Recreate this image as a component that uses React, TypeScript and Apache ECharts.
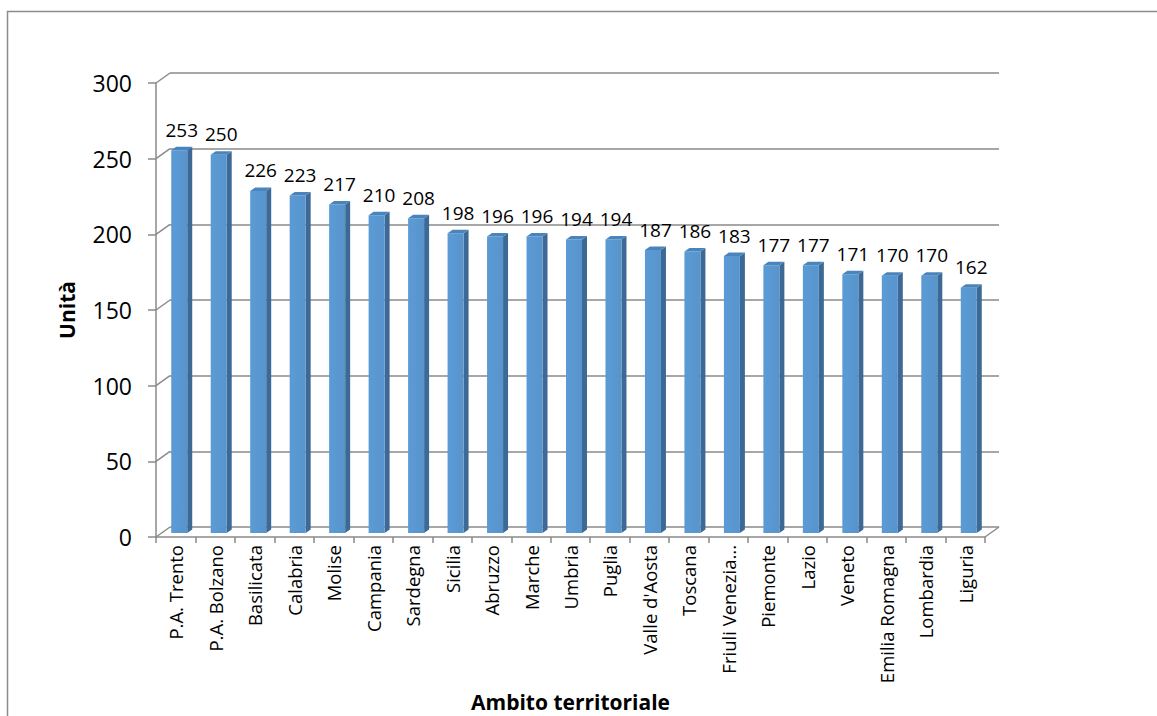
import React, { useEffect, useRef } from "react";
import * as echarts from "echarts";

// Regions, ordered from highest to lowest value
const categories = [
  "P.A. Trento", "P.A. Bolzano", "Basilicata", "Calabria", "Molise", "Campania",
  "Sardegna", "Sicilia", "Abruzzo", "Marche", "Umbria", "Puglia", "Valle d'Aosta",
  "Toscana", "Friuli Venezia...", "Piemonte", "Lazio", "Veneto", "Emilia Romagna",
  "Lombardia", "Liguria",
];
const values = [253, 250, 226, 223, 217, 210, 208, 198, 196, 196, 194, 194, 187, 186, 183, 177, 177, 171, 170, 170, 162];
const yTicks = [0, 50, 100, 150, 200, 250, 300];

const FONT = "'Open Sans', 'Liberation Sans', sans-serif";
const GRID_LEFT = 156;
const GRID_TOP = 83;
const GRID_W = 829;
const GRID_H = 454;
// depth of the 3D box (back wall offset)
const DX = 14;
const DY = -10;
const LINE = "#8a8a8a";

export default function App() {
  const ref = useRef<HTMLDivElement>(null);

  useEffect(() => {
    document.body.style.margin = "0";
    const chart = echarts.init(ref.current!, null, { renderer: "svg" });

    const option: any = {
      animation: false,
      backgroundColor: "#ffffff",
      grid: [
        { left: GRID_LEFT, top: GRID_TOP, width: GRID_W, height: GRID_H, containLabel: false, outerBoundsMode: "none" },
        { left: GRID_LEFT + DX, top: GRID_TOP + DY, width: GRID_W, height: GRID_H, containLabel: false, outerBoundsMode: "none" },
      ],
      xAxis: [
        {
          type: "category",
          gridIndex: 0,
          data: categories,
          axisLine: { lineStyle: { color: LINE, width: 1.5 } },
          axisTick: { show: true, interval: 0, length: 6, lineStyle: { color: LINE, width: 1.5 } },
          axisLabel: {
            interval: 0,
            rotate: 90,
            margin: 8,
            fontSize: 18.5,
            fontFamily: FONT,
            color: "#000",
          },
          name: "Ambito territoriale",
          nameLocation: "middle",
          nameGap: 151,
          nameTextStyle: { fontSize: 21, fontWeight: "bold", fontFamily: FONT, color: "#000" },
        },
        {
          type: "category",
          gridIndex: 1,
          data: categories,
          show: false,
        },
      ],
      yAxis: [
        {
          type: "value",
          gridIndex: 0,
          min: 0,
          max: 300,
          interval: 50,
          axisLine: { show: true, lineStyle: { color: LINE, width: 1.5 } },
          axisTick: { show: true, length: 8, lineStyle: { color: LINE, width: 1.5 } },
          splitLine: { show: false },
          axisLabel: { fontSize: 23, fontFamily: FONT, color: "#000", margin: 24 },
          name: "Unità",
          nameLocation: "middle",
          nameGap: 79,
          nameTextStyle: { fontSize: 21, fontWeight: "bold", fontFamily: FONT, color: "#000" },
        },
        {
          type: "value",
          gridIndex: 1,
          min: 0,
          max: 300,
          interval: 50,
          axisLine: { show: false },
          axisTick: { show: false },
          axisLabel: { show: false },
          splitLine: { show: true, lineStyle: { color: LINE, width: 1.5 } },
        },
      ],
      graphic: [
        {
          type: "rect",
          shape: { x: 7.5, y: 11.5, width: 1300, height: 900 },
          style: { fill: "none", stroke: "#8c8c8c", lineWidth: 1.5 },
          silent: true,
        },
      ],
      series: [
        {
          // diagonal connectors between the front axis and the back wall
          type: "custom",
          xAxisIndex: 0,
          yAxisIndex: 0,
          silent: true,
          data: yTicks.map((t) => [0, t]),
          renderItem: (params: any, api: any) => {
            const cs = params.coordSys;
            const y = api.coord([0, api.value(1)])[1];
            const children: any[] = [
              {
                type: "line",
                shape: { x1: cs.x, y1: y, x2: cs.x + DX, y2: y + DY },
                style: { stroke: LINE, lineWidth: 1.5 },
              },
            ];
            if (api.value(1) === 0) {
              children.push({
                type: "line",
                shape: { x1: cs.x + cs.width, y1: y, x2: cs.x + cs.width + DX, y2: y + DY },
                style: { stroke: LINE, lineWidth: 1.5 },
              });
            }
            return { type: "group", children };
          },
        },
        {
          // 3D columns: front face, right side and top
          type: "custom",
          xAxisIndex: 0,
          yAxisIndex: 0,
          data: values.map((v, i) => [i, v]),
          renderItem: (params: any, api: any) => {
            const idx = api.value(0);
            const v = api.value(1);
            const [cx, ty] = api.coord([idx, v]);
            const by = api.coord([idx, 0])[1];
            const w = 16;
            const sd = 5;
            const sdy = -3.5;
            const left = cx + 3.5 - w / 2;
            const right = left + w;
            const top = ty - 4;
            const bottom = by - 4;
            return {
              type: "group",
              children: [
                {
                  type: "polygon",
                  shape: { points: [[right, top], [right + sd, top + sdy], [right + sd, bottom + sdy], [right, bottom]] },
                  style: { fill: "#3d6996" },
                },
                {
                  type: "rect",
                  shape: { x: left, y: top, width: w, height: bottom - top },
                  style: {
                    fill: new echarts.graphic.LinearGradient(0, 0, 1, 0, [
                      { offset: 0, color: "#5b9bd5" },
                      { offset: 1, color: "#5894cc" },
                    ]),
                  },
                },
                {
                  type: "polygon",
                  shape: { points: [[left, top], [left + sd, top + sdy], [right + sd, top + sdy], [right, top]] },
                  style: { fill: "#4a84bd" },
                },
                {
                  type: "text",
                  x: left + (w + sd) / 2,
                  y: top - 11,
                  style: {
                    text: String(v),
                    fontSize: 19,
                    fontFamily: FONT,
                    fill: "#000",
                    align: "center",
                    verticalAlign: "bottom",
                  },
                },
              ],
            };
          },
        },
      ],
    };

    chart.setOption(option);
    return () => chart.dispose();
  }, []);

  return <div ref={ref} style={{ width: 1157, height: 716 }} />;
}
